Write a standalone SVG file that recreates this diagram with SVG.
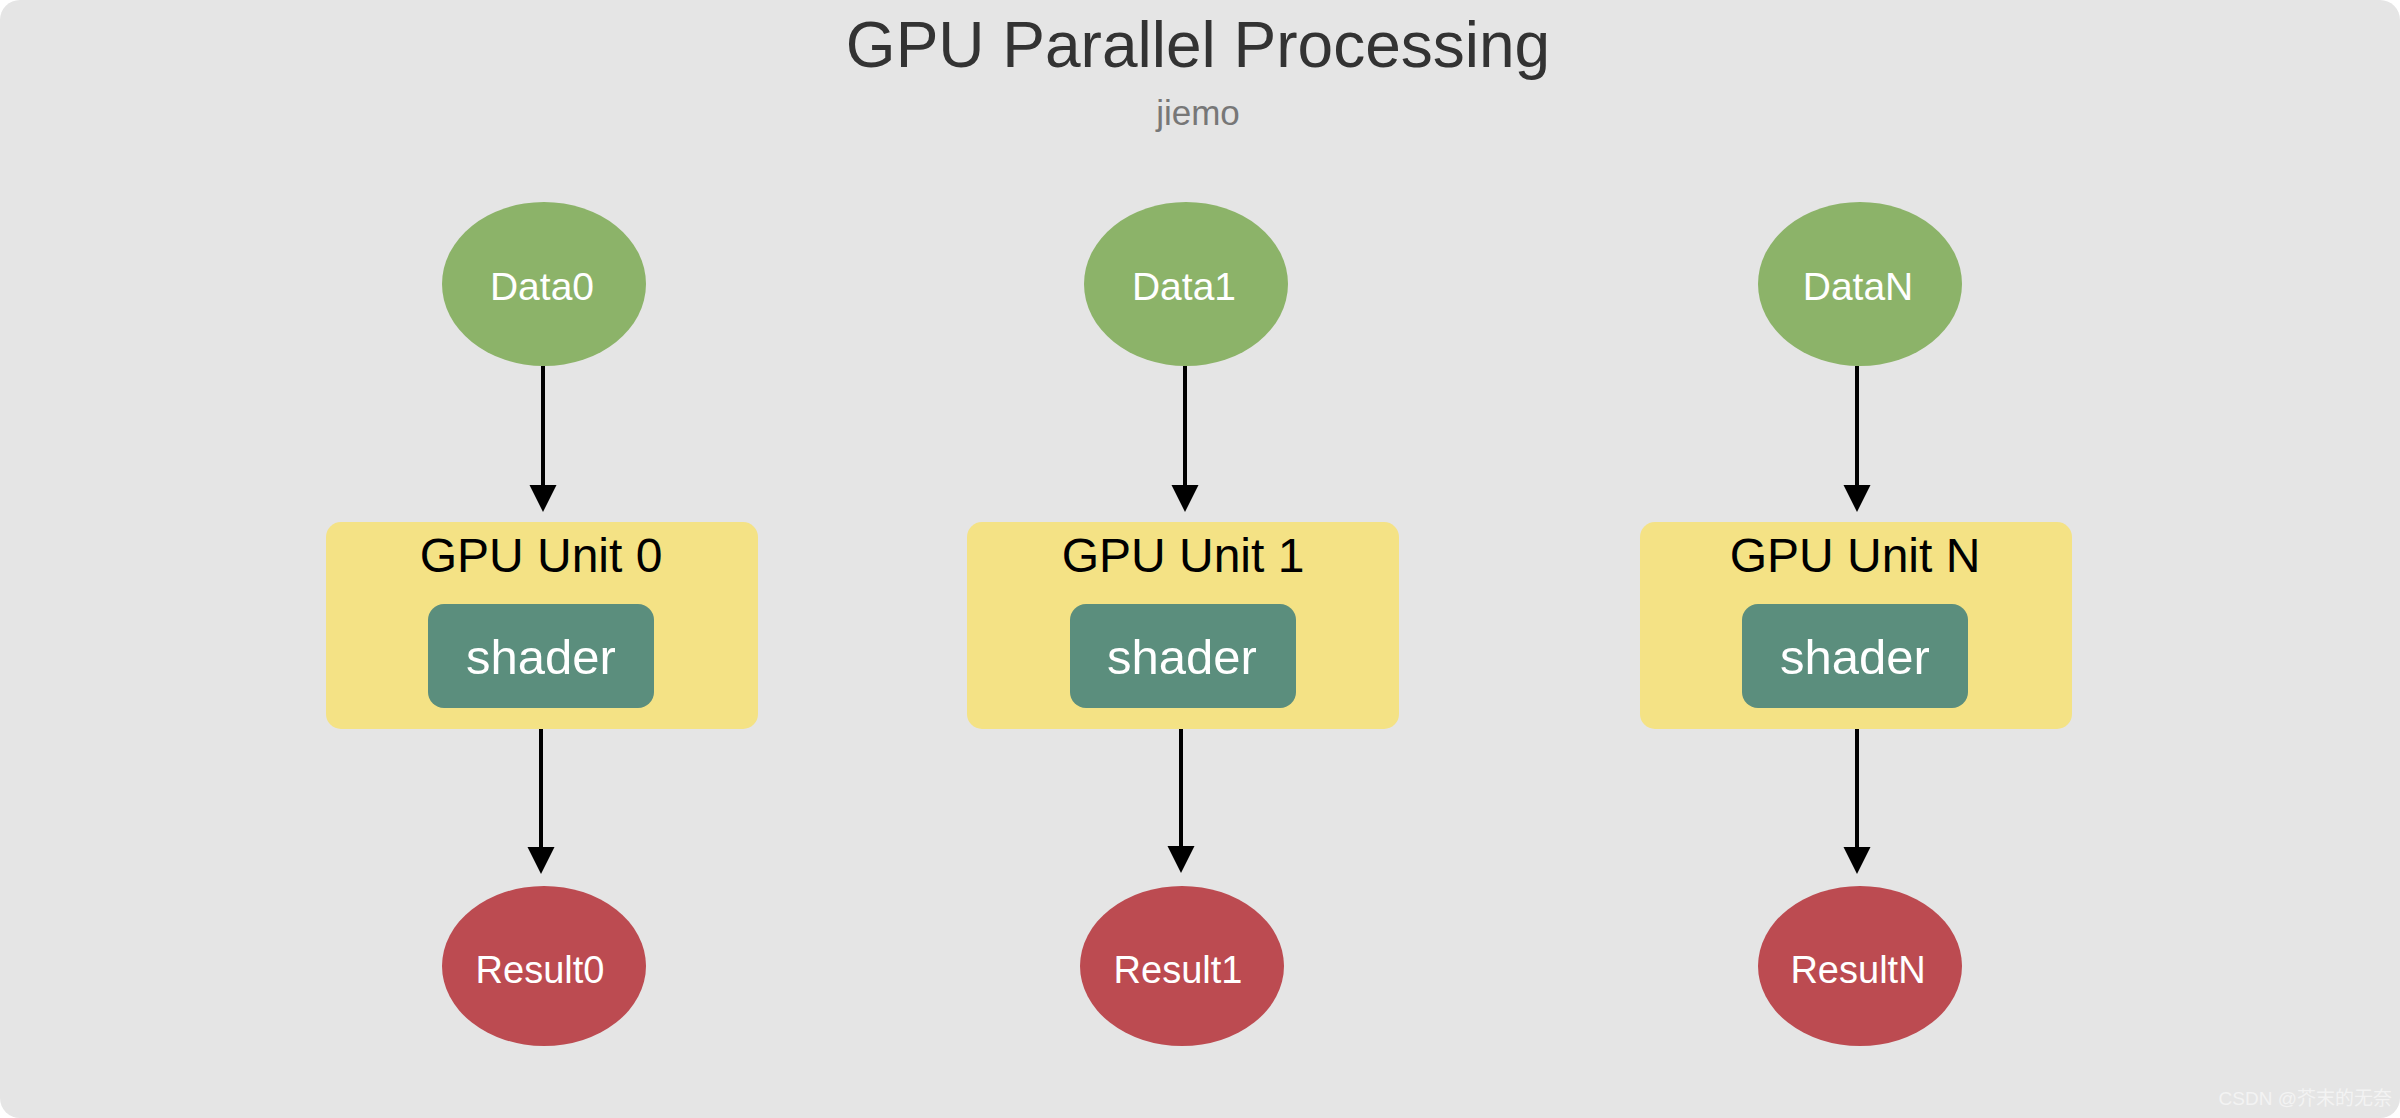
<svg xmlns="http://www.w3.org/2000/svg" width="2400" height="1118" viewBox="0 0 2400 1118">
<style>
.bg{fill:#e5e5e5}
.data{fill:#8cb369}
.result{fill:#bc4b51}
.unit{fill:#f4e285}
.shader{fill:#5b8e7d}
.t{font-family:"Liberation Sans",Arial,sans-serif;text-anchor:middle}
.lbl{font-size:38px;fill:#ffffff}
.dlbl{font-size:39px;fill:#ffffff}
.unitlbl{font-size:48px;fill:#000000}
.shlbl{font-size:49px;fill:#ffffff}
.edge{stroke:#000;stroke-width:4;fill:none}
</style>
<defs>
<marker id="arr" markerUnits="userSpaceOnUse" markerWidth="28" markerHeight="28" refX="2" refY="13.5" orient="auto">
<path d="M0,0 L27,13.5 L0,27 z" fill="#000"/>
</marker>
</defs>
<rect class="bg" x="0" y="0" width="2400" height="1118" rx="20" ry="20"/>
<g id="title">
<text class="t" x="1198" y="67" font-size="64" fill="#333333">GPU Parallel Processing</text>
<text class="t" x="1198" y="125" font-size="35" fill="#777777">jiemo</text>
</g>
<g id="connectors">
<line class="edge" x1="543" y1="366" x2="543" y2="487" marker-end="url(#arr)"/>
<line class="edge" x1="541" y1="729" x2="541" y2="849" marker-end="url(#arr)"/>
<line class="edge" x1="1185" y1="366" x2="1185" y2="487" marker-end="url(#arr)"/>
<line class="edge" x1="1181" y1="729" x2="1181" y2="848" marker-end="url(#arr)"/>
<line class="edge" x1="1857" y1="366" x2="1857" y2="487" marker-end="url(#arr)"/>
<line class="edge" x1="1857" y1="729" x2="1857" y2="849" marker-end="url(#arr)"/>
</g>
<g id="data0"><ellipse class="data" cx="544" cy="284" rx="102" ry="82"/><text class="t dlbl" x="542" y="300">Data0</text></g>
<g id="data1"><ellipse class="data" cx="1186" cy="284" rx="102" ry="82"/><text class="t dlbl" x="1184" y="300">Data1</text></g>
<g id="dataN"><ellipse class="data" cx="1860" cy="284" rx="102" ry="82"/><text class="t dlbl" x="1858" y="300">DataN</text></g>
<g id="unit0"><rect class="unit" x="326" y="522" width="432" height="207" rx="15"/><text class="t unitlbl" x="541" y="572">GPU Unit 0</text>
<g id="shader0"><rect class="shader" x="428" y="604" width="226" height="104" rx="16"/><text class="t shlbl" x="541" y="674">shader</text></g></g>
<g id="unit1"><rect class="unit" x="967" y="522" width="432" height="207" rx="15"/><text class="t unitlbl" x="1183" y="572">GPU Unit 1</text>
<g id="shader1"><rect class="shader" x="1070" y="604" width="226" height="104" rx="16"/><text class="t shlbl" x="1182" y="674">shader</text></g></g>
<g id="unitN"><rect class="unit" x="1640" y="522" width="432" height="207" rx="15"/><text class="t unitlbl" x="1855" y="572">GPU Unit N</text>
<g id="shaderN"><rect class="shader" x="1742" y="604" width="226" height="104" rx="16"/><text class="t shlbl" x="1855" y="674">shader</text></g></g>
<g id="result0"><ellipse class="result" cx="544" cy="966" rx="102" ry="80"/><text class="t lbl" x="540" y="983">Result0</text></g>
<g id="result1"><ellipse class="result" cx="1182" cy="966" rx="102" ry="80"/><text class="t lbl" x="1178" y="983">Result1</text></g>
<g id="resultN"><ellipse class="result" cx="1860" cy="966" rx="102" ry="80"/><text class="t lbl" x="1858" y="983">ResultN</text></g>
<text x="2392" y="1105" font-family="'Liberation Sans','Noto Sans CJK SC',sans-serif" font-size="19" fill="#f3f3f3" text-anchor="end">CSDN @芥末的无奈</text>
</svg>
